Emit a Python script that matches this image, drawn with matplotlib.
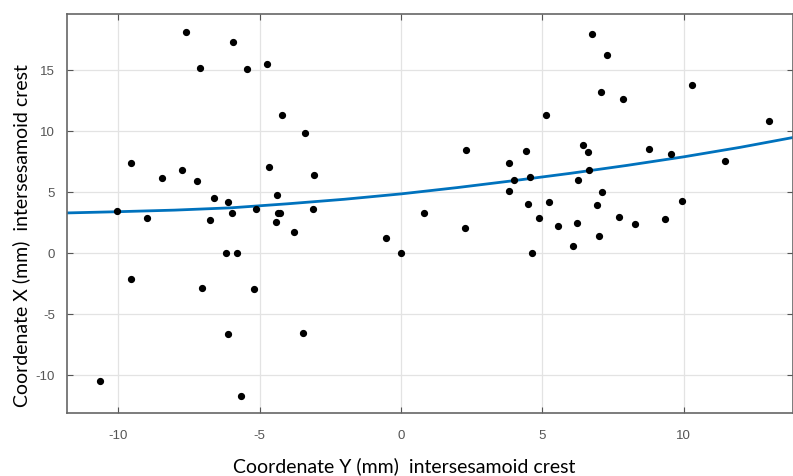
import numpy as np
import matplotlib
matplotlib.use("Agg")
import matplotlib.pyplot as plt

plt.rcParams["axes.unicode_minus"] = False

# 산점도 데이터
coord_y = [-7.59, -5.94, -7.12, -5.46, -4.72, -4.19, -3.38, -9.56, -8.44, -7.76,
           -7.22, -4.66, -3.08, -6.61, -6.13, -4.40, -10.06, -5.97, -5.13, -4.34,
           -4.28, -3.12, -8.98, -6.77, -4.42, -3.77, -6.18, -5.80, -9.56, -7.05,
           -5.20, -6.11, -3.48, -10.65, -5.66,
           -0.54, 0.00, 0.80, 2.26, 2.29,
           3.83, 4.41, 5.14, 3.99, 4.56, 3.83, 4.48, 5.24, 4.89, 5.57, 4.62,
           6.77, 7.29, 7.09, 7.84, 10.29, 13.02, 6.45, 6.61, 8.76, 9.56, 11.47,
           6.67, 6.26, 7.11, 6.93, 9.95, 7.70, 9.33, 6.23, 8.27, 7.00, 6.08]
coord_x = [18.16, 17.35, 15.19, 15.10, 15.50, 11.31, 9.89, 7.43, 6.15, 6.80,
           5.95, 7.05, 6.42, 4.56, 4.18, 4.80, 3.44, 3.28, 3.63, 3.30,
           3.30, 3.60, 2.90, 2.76, 2.54, 1.72, 0.00, 0.00, -2.13, -2.84,
           -2.98, -6.67, -6.56, -10.47, -11.70,
           1.25, 0.00, 3.33, 2.10, 8.47,
           7.40, 8.39, 11.31, 5.98, 6.23, 5.13, 4.07, 4.23, 2.85, 2.25, 0.00,
           17.95, 16.25, 13.25, 12.65, 13.77, 10.82, 8.85, 8.33, 8.52, 8.17, 7.59,
           6.83, 5.98, 5.02, 3.93, 4.26, 3.00, 2.80, 2.51, 2.37, 1.44, 0.60]

# 추세선 (그림에서 읽은 곡선 위 점)
fit_y = [-11.8, -10, -8, -6, -4, -2, 0, 2, 4, 6, 8, 10, 12, 13.9]
fit_x = [3.30, 3.40, 3.53, 3.72, 4.05, 4.42, 4.86, 5.38, 5.95, 6.55, 7.20, 7.90, 8.68, 9.50]

x_ticks = [-10, -5, 0, 5, 10]
y_ticks = [-10, -5, 0, 5, 10, 15]

fig = plt.figure(figsize=(7.93, 4.76), dpi=100)
ax = fig.add_axes([0.0849, 0.1317, 0.9151, 0.8389])

ax.grid(True, color="#e3e3e3", lw=0.9)
ax.set_axisbelow(True)
ax.plot(fit_y, fit_x, color="#0072BD", lw=2.0, zorder=2)
ax.plot(coord_y, coord_x, "o", color="black", ms=4.2, zorder=3)

ax.set_xlim(-11.8, 13.87)
ax.set_ylim(-13.14, 19.62)
ax.set_xticks(x_ticks)
ax.set_yticks(y_ticks)
ax.tick_params(direction="in", length=4, width=0.8, color="#555555",
               labelcolor="#555555", labelsize=9.5, top=True, right=True)
ax.tick_params(axis="x", pad=12)
ax.tick_params(axis="y", pad=9)
for t in ax.get_xticklabels() + ax.get_yticklabels():
    t.set_family("Liberation Sans")
for s in ax.spines.values():
    s.set_color("#666666")
    s.set_linewidth(1.2)

# 축 제목 (원본 위치에 맞춰 배치)
fig.text(0.5095, 0.021, "Coordenate Y (mm)  intersesamoid crest", fontsize=14,
         family="Lato", ha="center", va="center")
fig.text(0.0265, 0.506, "Coordenate X (mm)  intersesamoid crest", fontsize=14,
         family="Lato", ha="center", va="center", rotation=90)

fig.savefig("out.png", dpi=100)
